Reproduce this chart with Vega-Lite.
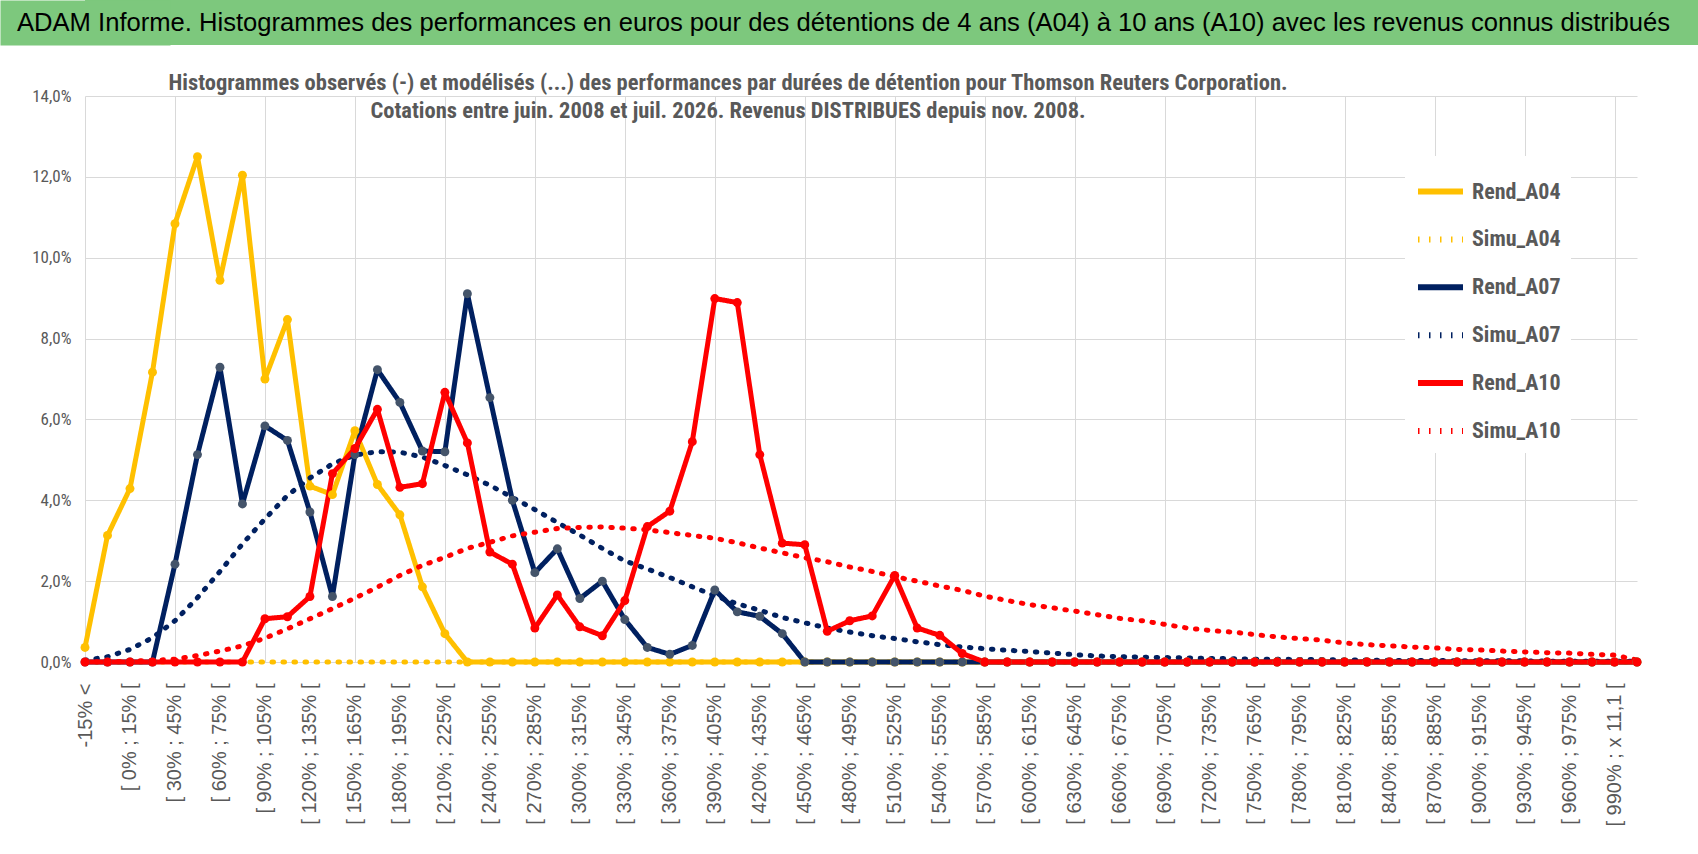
{
  "$schema": "https://vega.github.io/schema/vega-lite/v6.json",
  "padding": 0,
  "background": "white",
  "config": {"view": {"stroke": null}, "font": "Liberation Sans Narrow, Roboto Condensed, Arial Narrow, sans-serif"},
  "columns": 1,
  "spacing": 26,
  "resolve": {
    "scale": {"color": "independent", "strokeDash": "independent", "fill": "independent"},
    "legend": {"color": "independent", "strokeDash": "independent", "fill": "independent"}
  },
  "concat": [
    {
      "width": 1613,
      "height": 45,
      "view": {"fill": "#7DC87D", "stroke": null},
      "data": {"values": [{"t": "ADAM Informe. Histogrammes des performances en euros pour des détentions de 4 ans (A04) à 10 ans (A10) avec les revenus connus distribués"}]},
      "mark": {"type": "text", "align": "left", "baseline": "middle", "dx": -68, "fontSize": 25.6, "font": "Liberation Sans, Arial, sans-serif", "color": "black"},
      "encoding": {
        "text": {"field": "t"},
        "x": {"datum": 0, "type": "quantitative", "scale": {"domain": [0, 1]}, "axis": null},
        "y": {"datum": 0.5, "type": "quantitative", "scale": {"domain": [0, 1]},
          "axis": {"title": null, "labels": false, "ticks": false, "grid": false, "domainWidth": 170, "domainColor": "#7DC87D", "minExtent": 85}}
      }
    },
    {
      "width": 1552,
      "height": 566,
      "title": {
        "text": ["Histogrammes observés (-) et modélisés (...) des performances par durées de détention pour Thomson Reuters Corporation.", "Cotations entre juin. 2008 et juil. 2026. Revenus DISTRIBUES depuis nov. 2008."],
        "anchor": "middle",
        "frame": "group",
        "dx": -133,
        "offset": -35,
        "fontSize": 22.5,
        "fontWeight": "bold",
        "color": "#595959",
        "lineHeight": 28
      },
      "data": {"values": [
        {"c":"-15% <","s":"Rend_A04","v":0.36},{"c":"[ -15% ; 0% [","s":"Rend_A04","v":3.13},{"c":"[ 0% ; 15% [","s":"Rend_A04","v":4.29},{"c":"[ 15% ; 30% [","s":"Rend_A04","v":7.17},{"c":"[ 30% ; 45% [","s":"Rend_A04","v":10.84},{"c":"[ 45% ; 60% [","s":"Rend_A04","v":12.5},{"c":"[ 60% ; 75% [","s":"Rend_A04","v":9.44},{"c":"[ 75% ; 90% [","s":"Rend_A04","v":12.04},{"c":"[ 90% ; 105% [","s":"Rend_A04","v":7.0},{"c":"[ 105% ; 120% [","s":"Rend_A04","v":8.47},
        {"c":"[ 120% ; 135% [","s":"Rend_A04","v":4.35},{"c":"[ 135% ; 150% [","s":"Rend_A04","v":4.14},{"c":"[ 150% ; 165% [","s":"Rend_A04","v":5.72},{"c":"[ 165% ; 180% [","s":"Rend_A04","v":4.39},{"c":"[ 180% ; 195% [","s":"Rend_A04","v":3.64},{"c":"[ 195% ; 210% [","s":"Rend_A04","v":1.86},{"c":"[ 210% ; 225% [","s":"Rend_A04","v":0.7},{"c":"[ 225% ; 240% [","s":"Rend_A04","v":0},{"c":"[ 240% ; 255% [","s":"Rend_A04","v":0},{"c":"[ 255% ; 270% [","s":"Rend_A04","v":0},
        {"c":"[ 270% ; 285% [","s":"Rend_A04","v":0},{"c":"[ 285% ; 300% [","s":"Rend_A04","v":0},{"c":"[ 300% ; 315% [","s":"Rend_A04","v":0},{"c":"[ 315% ; 330% [","s":"Rend_A04","v":0},{"c":"[ 330% ; 345% [","s":"Rend_A04","v":0},{"c":"[ 345% ; 360% [","s":"Rend_A04","v":0},{"c":"[ 360% ; 375% [","s":"Rend_A04","v":0},{"c":"[ 375% ; 390% [","s":"Rend_A04","v":0},{"c":"[ 390% ; 405% [","s":"Rend_A04","v":0},{"c":"[ 405% ; 420% [","s":"Rend_A04","v":0},
        {"c":"[ 420% ; 435% [","s":"Rend_A04","v":0},{"c":"[ 435% ; 450% [","s":"Rend_A04","v":0},{"c":"[ 450% ; 465% [","s":"Rend_A04","v":0},{"c":"[ 465% ; 480% [","s":"Rend_A04","v":0},{"c":"[ 480% ; 495% [","s":"Rend_A04","v":0},{"c":"[ 495% ; 510% [","s":"Rend_A04","v":0},{"c":"[ 510% ; 525% [","s":"Rend_A04","v":0},{"c":"[ 525% ; 540% [","s":"Rend_A04","v":0},{"c":"[ 540% ; 555% [","s":"Rend_A04","v":0},{"c":"[ 555% ; 570% [","s":"Rend_A04","v":0},
        {"c":"[ 570% ; 585% [","s":"Rend_A04","v":0},{"c":"[ 585% ; 600% [","s":"Rend_A04","v":0},{"c":"[ 600% ; 615% [","s":"Rend_A04","v":0},{"c":"[ 615% ; 630% [","s":"Rend_A04","v":0},{"c":"[ 630% ; 645% [","s":"Rend_A04","v":0},{"c":"[ 645% ; 660% [","s":"Rend_A04","v":0},{"c":"[ 660% ; 675% [","s":"Rend_A04","v":0},{"c":"[ 675% ; 690% [","s":"Rend_A04","v":0},{"c":"[ 690% ; 705% [","s":"Rend_A04","v":0},{"c":"[ 705% ; 720% [","s":"Rend_A04","v":0},
        {"c":"[ 720% ; 735% [","s":"Rend_A04","v":0},{"c":"[ 735% ; 750% [","s":"Rend_A04","v":0},{"c":"[ 750% ; 765% [","s":"Rend_A04","v":0},{"c":"[ 765% ; 780% [","s":"Rend_A04","v":0},{"c":"[ 780% ; 795% [","s":"Rend_A04","v":0},{"c":"[ 795% ; 810% [","s":"Rend_A04","v":0},{"c":"[ 810% ; 825% [","s":"Rend_A04","v":0},{"c":"[ 825% ; 840% [","s":"Rend_A04","v":0},{"c":"[ 840% ; 855% [","s":"Rend_A04","v":0},{"c":"[ 855% ; 870% [","s":"Rend_A04","v":0},
        {"c":"[ 870% ; 885% [","s":"Rend_A04","v":0},{"c":"[ 885% ; 900% [","s":"Rend_A04","v":0},{"c":"[ 900% ; 915% [","s":"Rend_A04","v":0},{"c":"[ 915% ; 930% [","s":"Rend_A04","v":0},{"c":"[ 930% ; 945% [","s":"Rend_A04","v":0},{"c":"[ 945% ; 960% [","s":"Rend_A04","v":0},{"c":"[ 960% ; 975% [","s":"Rend_A04","v":0},{"c":"[ 975% ; 990% [","s":"Rend_A04","v":0},{"c":"[ 990% ; x 11,1 [","s":"Rend_A04","v":0},{"c":"x 11,1 <","s":"Rend_A04","v":0},

        {"c":"-15% <","s":"Simu_A04","v":0},{"c":"[ -15% ; 0% [","s":"Simu_A04","v":0},{"c":"[ 0% ; 15% [","s":"Simu_A04","v":0},{"c":"[ 15% ; 30% [","s":"Simu_A04","v":0},{"c":"[ 30% ; 45% [","s":"Simu_A04","v":0},{"c":"[ 45% ; 60% [","s":"Simu_A04","v":0},{"c":"[ 60% ; 75% [","s":"Simu_A04","v":0},{"c":"[ 75% ; 90% [","s":"Simu_A04","v":0},{"c":"[ 90% ; 105% [","s":"Simu_A04","v":0},{"c":"[ 105% ; 120% [","s":"Simu_A04","v":0},
        {"c":"[ 120% ; 135% [","s":"Simu_A04","v":0},{"c":"[ 135% ; 150% [","s":"Simu_A04","v":0},{"c":"[ 150% ; 165% [","s":"Simu_A04","v":0},{"c":"[ 165% ; 180% [","s":"Simu_A04","v":0},{"c":"[ 180% ; 195% [","s":"Simu_A04","v":0},{"c":"[ 195% ; 210% [","s":"Simu_A04","v":0},{"c":"[ 210% ; 225% [","s":"Simu_A04","v":0},{"c":"[ 225% ; 240% [","s":"Simu_A04","v":0},{"c":"[ 240% ; 255% [","s":"Simu_A04","v":0},{"c":"[ 255% ; 270% [","s":"Simu_A04","v":0},
        {"c":"[ 270% ; 285% [","s":"Simu_A04","v":0},{"c":"[ 285% ; 300% [","s":"Simu_A04","v":0},{"c":"[ 300% ; 315% [","s":"Simu_A04","v":0},{"c":"[ 315% ; 330% [","s":"Simu_A04","v":0},{"c":"[ 330% ; 345% [","s":"Simu_A04","v":0},{"c":"[ 345% ; 360% [","s":"Simu_A04","v":0},{"c":"[ 360% ; 375% [","s":"Simu_A04","v":0},{"c":"[ 375% ; 390% [","s":"Simu_A04","v":0},{"c":"[ 390% ; 405% [","s":"Simu_A04","v":0},{"c":"[ 405% ; 420% [","s":"Simu_A04","v":0},
        {"c":"[ 420% ; 435% [","s":"Simu_A04","v":0},{"c":"[ 435% ; 450% [","s":"Simu_A04","v":0},{"c":"[ 450% ; 465% [","s":"Simu_A04","v":0},{"c":"[ 465% ; 480% [","s":"Simu_A04","v":0},{"c":"[ 480% ; 495% [","s":"Simu_A04","v":0},{"c":"[ 495% ; 510% [","s":"Simu_A04","v":0},{"c":"[ 510% ; 525% [","s":"Simu_A04","v":0},{"c":"[ 525% ; 540% [","s":"Simu_A04","v":0},{"c":"[ 540% ; 555% [","s":"Simu_A04","v":0},{"c":"[ 555% ; 570% [","s":"Simu_A04","v":0},
        {"c":"[ 570% ; 585% [","s":"Simu_A04","v":0},{"c":"[ 585% ; 600% [","s":"Simu_A04","v":0},{"c":"[ 600% ; 615% [","s":"Simu_A04","v":0},{"c":"[ 615% ; 630% [","s":"Simu_A04","v":0},{"c":"[ 630% ; 645% [","s":"Simu_A04","v":0},{"c":"[ 645% ; 660% [","s":"Simu_A04","v":0},{"c":"[ 660% ; 675% [","s":"Simu_A04","v":0},{"c":"[ 675% ; 690% [","s":"Simu_A04","v":0},{"c":"[ 690% ; 705% [","s":"Simu_A04","v":0},{"c":"[ 705% ; 720% [","s":"Simu_A04","v":0},
        {"c":"[ 720% ; 735% [","s":"Simu_A04","v":0},{"c":"[ 735% ; 750% [","s":"Simu_A04","v":0},{"c":"[ 750% ; 765% [","s":"Simu_A04","v":0},{"c":"[ 765% ; 780% [","s":"Simu_A04","v":0},{"c":"[ 780% ; 795% [","s":"Simu_A04","v":0},{"c":"[ 795% ; 810% [","s":"Simu_A04","v":0},{"c":"[ 810% ; 825% [","s":"Simu_A04","v":0},{"c":"[ 825% ; 840% [","s":"Simu_A04","v":0},{"c":"[ 840% ; 855% [","s":"Simu_A04","v":0},{"c":"[ 855% ; 870% [","s":"Simu_A04","v":0},
        {"c":"[ 870% ; 885% [","s":"Simu_A04","v":0},{"c":"[ 885% ; 900% [","s":"Simu_A04","v":0},{"c":"[ 900% ; 915% [","s":"Simu_A04","v":0},{"c":"[ 915% ; 930% [","s":"Simu_A04","v":0},{"c":"[ 930% ; 945% [","s":"Simu_A04","v":0},{"c":"[ 945% ; 960% [","s":"Simu_A04","v":0},{"c":"[ 960% ; 975% [","s":"Simu_A04","v":0},{"c":"[ 975% ; 990% [","s":"Simu_A04","v":0},{"c":"[ 990% ; x 11,1 [","s":"Simu_A04","v":0},{"c":"x 11,1 <","s":"Simu_A04","v":0},

        {"c":"-15% <","s":"Rend_A07","v":0},{"c":"[ -15% ; 0% [","s":"Rend_A07","v":0},{"c":"[ 0% ; 15% [","s":"Rend_A07","v":0},{"c":"[ 15% ; 30% [","s":"Rend_A07","v":0},{"c":"[ 30% ; 45% [","s":"Rend_A07","v":2.42},{"c":"[ 45% ; 60% [","s":"Rend_A07","v":5.13},{"c":"[ 60% ; 75% [","s":"Rend_A07","v":7.29},{"c":"[ 75% ; 90% [","s":"Rend_A07","v":3.91},{"c":"[ 90% ; 105% [","s":"Rend_A07","v":5.84},{"c":"[ 105% ; 120% [","s":"Rend_A07","v":5.48},
        {"c":"[ 120% ; 135% [","s":"Rend_A07","v":3.71},{"c":"[ 135% ; 150% [","s":"Rend_A07","v":1.62},{"c":"[ 150% ; 165% [","s":"Rend_A07","v":5.13},{"c":"[ 165% ; 180% [","s":"Rend_A07","v":7.23},{"c":"[ 180% ; 195% [","s":"Rend_A07","v":6.42},{"c":"[ 195% ; 210% [","s":"Rend_A07","v":5.22},{"c":"[ 210% ; 225% [","s":"Rend_A07","v":5.2},{"c":"[ 225% ; 240% [","s":"Rend_A07","v":9.11},{"c":"[ 240% ; 255% [","s":"Rend_A07","v":6.54},{"c":"[ 255% ; 270% [","s":"Rend_A07","v":4.0},
        {"c":"[ 270% ; 285% [","s":"Rend_A07","v":2.21},{"c":"[ 285% ; 300% [","s":"Rend_A07","v":2.8},{"c":"[ 300% ; 315% [","s":"Rend_A07","v":1.57},{"c":"[ 315% ; 330% [","s":"Rend_A07","v":2.0},{"c":"[ 330% ; 345% [","s":"Rend_A07","v":1.05},{"c":"[ 345% ; 360% [","s":"Rend_A07","v":0.36},{"c":"[ 360% ; 375% [","s":"Rend_A07","v":0.19},{"c":"[ 375% ; 390% [","s":"Rend_A07","v":0.41},{"c":"[ 390% ; 405% [","s":"Rend_A07","v":1.78},{"c":"[ 405% ; 420% [","s":"Rend_A07","v":1.24},
        {"c":"[ 420% ; 435% [","s":"Rend_A07","v":1.13},{"c":"[ 435% ; 450% [","s":"Rend_A07","v":0.7},{"c":"[ 450% ; 465% [","s":"Rend_A07","v":0},{"c":"[ 465% ; 480% [","s":"Rend_A07","v":0},{"c":"[ 480% ; 495% [","s":"Rend_A07","v":0},{"c":"[ 495% ; 510% [","s":"Rend_A07","v":0},{"c":"[ 510% ; 525% [","s":"Rend_A07","v":0},{"c":"[ 525% ; 540% [","s":"Rend_A07","v":0},{"c":"[ 540% ; 555% [","s":"Rend_A07","v":0},{"c":"[ 555% ; 570% [","s":"Rend_A07","v":0},
        {"c":"[ 570% ; 585% [","s":"Rend_A07","v":0},{"c":"[ 585% ; 600% [","s":"Rend_A07","v":0},{"c":"[ 600% ; 615% [","s":"Rend_A07","v":0},{"c":"[ 615% ; 630% [","s":"Rend_A07","v":0},{"c":"[ 630% ; 645% [","s":"Rend_A07","v":0},{"c":"[ 645% ; 660% [","s":"Rend_A07","v":0},{"c":"[ 660% ; 675% [","s":"Rend_A07","v":0},{"c":"[ 675% ; 690% [","s":"Rend_A07","v":0},{"c":"[ 690% ; 705% [","s":"Rend_A07","v":0},{"c":"[ 705% ; 720% [","s":"Rend_A07","v":0},
        {"c":"[ 720% ; 735% [","s":"Rend_A07","v":0},{"c":"[ 735% ; 750% [","s":"Rend_A07","v":0},{"c":"[ 750% ; 765% [","s":"Rend_A07","v":0},{"c":"[ 765% ; 780% [","s":"Rend_A07","v":0},{"c":"[ 780% ; 795% [","s":"Rend_A07","v":0},{"c":"[ 795% ; 810% [","s":"Rend_A07","v":0},{"c":"[ 810% ; 825% [","s":"Rend_A07","v":0},{"c":"[ 825% ; 840% [","s":"Rend_A07","v":0},{"c":"[ 840% ; 855% [","s":"Rend_A07","v":0},{"c":"[ 855% ; 870% [","s":"Rend_A07","v":0},
        {"c":"[ 870% ; 885% [","s":"Rend_A07","v":0},{"c":"[ 885% ; 900% [","s":"Rend_A07","v":0},{"c":"[ 900% ; 915% [","s":"Rend_A07","v":0},{"c":"[ 915% ; 930% [","s":"Rend_A07","v":0},{"c":"[ 930% ; 945% [","s":"Rend_A07","v":0},{"c":"[ 945% ; 960% [","s":"Rend_A07","v":0},{"c":"[ 960% ; 975% [","s":"Rend_A07","v":0},{"c":"[ 975% ; 990% [","s":"Rend_A07","v":0},{"c":"[ 990% ; x 11,1 [","s":"Rend_A07","v":0},{"c":"x 11,1 <","s":"Rend_A07","v":0},

        {"c":"-15% <","s":"Simu_A07","v":0.04},{"c":"[ -15% ; 0% [","s":"Simu_A07","v":0.13},{"c":"[ 0% ; 15% [","s":"Simu_A07","v":0.31},{"c":"[ 15% ; 30% [","s":"Simu_A07","v":0.6},{"c":"[ 30% ; 45% [","s":"Simu_A07","v":1.02},{"c":"[ 45% ; 60% [","s":"Simu_A07","v":1.59},{"c":"[ 60% ; 75% [","s":"Simu_A07","v":2.24},{"c":"[ 75% ; 90% [","s":"Simu_A07","v":2.92},{"c":"[ 90% ; 105% [","s":"Simu_A07","v":3.54},{"c":"[ 105% ; 120% [","s":"Simu_A07","v":4.12},
        {"c":"[ 120% ; 135% [","s":"Simu_A07","v":4.55},{"c":"[ 135% ; 150% [","s":"Simu_A07","v":4.9},{"c":"[ 150% ; 165% [","s":"Simu_A07","v":5.12},{"c":"[ 165% ; 180% [","s":"Simu_A07","v":5.2},{"c":"[ 180% ; 195% [","s":"Simu_A07","v":5.19},{"c":"[ 195% ; 210% [","s":"Simu_A07","v":5.07},{"c":"[ 210% ; 225% [","s":"Simu_A07","v":4.86},{"c":"[ 225% ; 240% [","s":"Simu_A07","v":4.63},{"c":"[ 240% ; 255% [","s":"Simu_A07","v":4.37},{"c":"[ 255% ; 270% [","s":"Simu_A07","v":4.07},
        {"c":"[ 270% ; 285% [","s":"Simu_A07","v":3.77},{"c":"[ 285% ; 300% [","s":"Simu_A07","v":3.45},{"c":"[ 300% ; 315% [","s":"Simu_A07","v":3.14},{"c":"[ 315% ; 330% [","s":"Simu_A07","v":2.81},{"c":"[ 330% ; 345% [","s":"Simu_A07","v":2.5},{"c":"[ 345% ; 360% [","s":"Simu_A07","v":2.3},{"c":"[ 360% ; 375% [","s":"Simu_A07","v":2.09},{"c":"[ 375% ; 390% [","s":"Simu_A07","v":1.86},{"c":"[ 390% ; 405% [","s":"Simu_A07","v":1.64},{"c":"[ 405% ; 420% [","s":"Simu_A07","v":1.44},
        {"c":"[ 420% ; 435% [","s":"Simu_A07","v":1.28},{"c":"[ 435% ; 450% [","s":"Simu_A07","v":1.1},{"c":"[ 450% ; 465% [","s":"Simu_A07","v":0.97},{"c":"[ 465% ; 480% [","s":"Simu_A07","v":0.84},{"c":"[ 480% ; 495% [","s":"Simu_A07","v":0.74},{"c":"[ 495% ; 510% [","s":"Simu_A07","v":0.65},{"c":"[ 510% ; 525% [","s":"Simu_A07","v":0.58},{"c":"[ 525% ; 540% [","s":"Simu_A07","v":0.5},{"c":"[ 540% ; 555% [","s":"Simu_A07","v":0.43},{"c":"[ 555% ; 570% [","s":"Simu_A07","v":0.37},
        {"c":"[ 570% ; 585% [","s":"Simu_A07","v":0.33},{"c":"[ 585% ; 600% [","s":"Simu_A07","v":0.29},{"c":"[ 600% ; 615% [","s":"Simu_A07","v":0.26},{"c":"[ 615% ; 630% [","s":"Simu_A07","v":0.22},{"c":"[ 630% ; 645% [","s":"Simu_A07","v":0.18},{"c":"[ 645% ; 660% [","s":"Simu_A07","v":0.15},{"c":"[ 660% ; 675% [","s":"Simu_A07","v":0.13},{"c":"[ 675% ; 690% [","s":"Simu_A07","v":0.12},{"c":"[ 690% ; 705% [","s":"Simu_A07","v":0.11},{"c":"[ 705% ; 720% [","s":"Simu_A07","v":0.1},
        {"c":"[ 720% ; 735% [","s":"Simu_A07","v":0.09},{"c":"[ 735% ; 750% [","s":"Simu_A07","v":0.08},{"c":"[ 750% ; 765% [","s":"Simu_A07","v":0.07},{"c":"[ 765% ; 780% [","s":"Simu_A07","v":0.07},{"c":"[ 780% ; 795% [","s":"Simu_A07","v":0.06},{"c":"[ 795% ; 810% [","s":"Simu_A07","v":0.06},{"c":"[ 810% ; 825% [","s":"Simu_A07","v":0.05},{"c":"[ 825% ; 840% [","s":"Simu_A07","v":0.05},{"c":"[ 840% ; 855% [","s":"Simu_A07","v":0.04},{"c":"[ 855% ; 870% [","s":"Simu_A07","v":0.04},
        {"c":"[ 870% ; 885% [","s":"Simu_A07","v":0.04},{"c":"[ 885% ; 900% [","s":"Simu_A07","v":0.03},{"c":"[ 900% ; 915% [","s":"Simu_A07","v":0.03},{"c":"[ 915% ; 930% [","s":"Simu_A07","v":0.03},{"c":"[ 930% ; 945% [","s":"Simu_A07","v":0.03},{"c":"[ 945% ; 960% [","s":"Simu_A07","v":0.02},{"c":"[ 960% ; 975% [","s":"Simu_A07","v":0.02},{"c":"[ 975% ; 990% [","s":"Simu_A07","v":0.02},{"c":"[ 990% ; x 11,1 [","s":"Simu_A07","v":0.02},{"c":"x 11,1 <","s":"Simu_A07","v":0.02},

        {"c":"-15% <","s":"Rend_A10","v":0},{"c":"[ -15% ; 0% [","s":"Rend_A10","v":0},{"c":"[ 0% ; 15% [","s":"Rend_A10","v":0},{"c":"[ 15% ; 30% [","s":"Rend_A10","v":0},{"c":"[ 30% ; 45% [","s":"Rend_A10","v":0},{"c":"[ 45% ; 60% [","s":"Rend_A10","v":0},{"c":"[ 60% ; 75% [","s":"Rend_A10","v":0},{"c":"[ 75% ; 90% [","s":"Rend_A10","v":0},{"c":"[ 90% ; 105% [","s":"Rend_A10","v":1.07},{"c":"[ 105% ; 120% [","s":"Rend_A10","v":1.12},
        {"c":"[ 120% ; 135% [","s":"Rend_A10","v":1.62},{"c":"[ 135% ; 150% [","s":"Rend_A10","v":4.66},{"c":"[ 150% ; 165% [","s":"Rend_A10","v":5.28},{"c":"[ 165% ; 180% [","s":"Rend_A10","v":6.25},{"c":"[ 180% ; 195% [","s":"Rend_A10","v":4.32},{"c":"[ 195% ; 210% [","s":"Rend_A10","v":4.41},{"c":"[ 210% ; 225% [","s":"Rend_A10","v":6.67},{"c":"[ 225% ; 240% [","s":"Rend_A10","v":5.42},{"c":"[ 240% ; 255% [","s":"Rend_A10","v":2.72},{"c":"[ 255% ; 270% [","s":"Rend_A10","v":2.42},
        {"c":"[ 270% ; 285% [","s":"Rend_A10","v":0.84},{"c":"[ 285% ; 300% [","s":"Rend_A10","v":1.66},{"c":"[ 300% ; 315% [","s":"Rend_A10","v":0.87},{"c":"[ 315% ; 330% [","s":"Rend_A10","v":0.65},{"c":"[ 330% ; 345% [","s":"Rend_A10","v":1.52},{"c":"[ 345% ; 360% [","s":"Rend_A10","v":3.35},{"c":"[ 360% ; 375% [","s":"Rend_A10","v":3.73},{"c":"[ 375% ; 390% [","s":"Rend_A10","v":5.45},{"c":"[ 390% ; 405% [","s":"Rend_A10","v":8.99},{"c":"[ 405% ; 420% [","s":"Rend_A10","v":8.89},
        {"c":"[ 420% ; 435% [","s":"Rend_A10","v":5.13},{"c":"[ 435% ; 450% [","s":"Rend_A10","v":2.94},{"c":"[ 450% ; 465% [","s":"Rend_A10","v":2.9},{"c":"[ 465% ; 480% [","s":"Rend_A10","v":0.76},{"c":"[ 480% ; 495% [","s":"Rend_A10","v":1.02},{"c":"[ 495% ; 510% [","s":"Rend_A10","v":1.14},{"c":"[ 510% ; 525% [","s":"Rend_A10","v":2.14},{"c":"[ 525% ; 540% [","s":"Rend_A10","v":0.84},{"c":"[ 540% ; 555% [","s":"Rend_A10","v":0.66},{"c":"[ 555% ; 570% [","s":"Rend_A10","v":0.21},
        {"c":"[ 570% ; 585% [","s":"Rend_A10","v":0},{"c":"[ 585% ; 600% [","s":"Rend_A10","v":0},{"c":"[ 600% ; 615% [","s":"Rend_A10","v":0},{"c":"[ 615% ; 630% [","s":"Rend_A10","v":0},{"c":"[ 630% ; 645% [","s":"Rend_A10","v":0},{"c":"[ 645% ; 660% [","s":"Rend_A10","v":0},{"c":"[ 660% ; 675% [","s":"Rend_A10","v":0},{"c":"[ 675% ; 690% [","s":"Rend_A10","v":0},{"c":"[ 690% ; 705% [","s":"Rend_A10","v":0},{"c":"[ 705% ; 720% [","s":"Rend_A10","v":0},
        {"c":"[ 720% ; 735% [","s":"Rend_A10","v":0},{"c":"[ 735% ; 750% [","s":"Rend_A10","v":0},{"c":"[ 750% ; 765% [","s":"Rend_A10","v":0},{"c":"[ 765% ; 780% [","s":"Rend_A10","v":0},{"c":"[ 780% ; 795% [","s":"Rend_A10","v":0},{"c":"[ 795% ; 810% [","s":"Rend_A10","v":0},{"c":"[ 810% ; 825% [","s":"Rend_A10","v":0},{"c":"[ 825% ; 840% [","s":"Rend_A10","v":0},{"c":"[ 840% ; 855% [","s":"Rend_A10","v":0},{"c":"[ 855% ; 870% [","s":"Rend_A10","v":0},
        {"c":"[ 870% ; 885% [","s":"Rend_A10","v":0},{"c":"[ 885% ; 900% [","s":"Rend_A10","v":0},{"c":"[ 900% ; 915% [","s":"Rend_A10","v":0},{"c":"[ 915% ; 930% [","s":"Rend_A10","v":0},{"c":"[ 930% ; 945% [","s":"Rend_A10","v":0},{"c":"[ 945% ; 960% [","s":"Rend_A10","v":0},{"c":"[ 960% ; 975% [","s":"Rend_A10","v":0},{"c":"[ 975% ; 990% [","s":"Rend_A10","v":0},{"c":"[ 990% ; x 11,1 [","s":"Rend_A10","v":0},{"c":"x 11,1 <","s":"Rend_A10","v":0},

        {"c":"-15% <","s":"Simu_A10","v":0},{"c":"[ -15% ; 0% [","s":"Simu_A10","v":0.01},{"c":"[ 0% ; 15% [","s":"Simu_A10","v":0.02},{"c":"[ 15% ; 30% [","s":"Simu_A10","v":0.04},{"c":"[ 30% ; 45% [","s":"Simu_A10","v":0.07},{"c":"[ 45% ; 60% [","s":"Simu_A10","v":0.16},{"c":"[ 60% ; 75% [","s":"Simu_A10","v":0.27},{"c":"[ 75% ; 90% [","s":"Simu_A10","v":0.4},{"c":"[ 90% ; 105% [","s":"Simu_A10","v":0.59},{"c":"[ 105% ; 120% [","s":"Simu_A10","v":0.82},
        {"c":"[ 120% ; 135% [","s":"Simu_A10","v":1.07},{"c":"[ 135% ; 150% [","s":"Simu_A10","v":1.32},{"c":"[ 150% ; 165% [","s":"Simu_A10","v":1.58},{"c":"[ 165% ; 180% [","s":"Simu_A10","v":1.85},{"c":"[ 180% ; 195% [","s":"Simu_A10","v":2.14},{"c":"[ 195% ; 210% [","s":"Simu_A10","v":2.39},{"c":"[ 210% ; 225% [","s":"Simu_A10","v":2.59},{"c":"[ 225% ; 240% [","s":"Simu_A10","v":2.81},{"c":"[ 240% ; 255% [","s":"Simu_A10","v":2.96},{"c":"[ 255% ; 270% [","s":"Simu_A10","v":3.12},
        {"c":"[ 270% ; 285% [","s":"Simu_A10","v":3.21},{"c":"[ 285% ; 300% [","s":"Simu_A10","v":3.3},{"c":"[ 300% ; 315% [","s":"Simu_A10","v":3.33},{"c":"[ 315% ; 330% [","s":"Simu_A10","v":3.34},{"c":"[ 330% ; 345% [","s":"Simu_A10","v":3.31},{"c":"[ 345% ; 360% [","s":"Simu_A10","v":3.27},{"c":"[ 360% ; 375% [","s":"Simu_A10","v":3.2},{"c":"[ 375% ; 390% [","s":"Simu_A10","v":3.13},{"c":"[ 390% ; 405% [","s":"Simu_A10","v":3.06},{"c":"[ 405% ; 420% [","s":"Simu_A10","v":2.95},
        {"c":"[ 420% ; 435% [","s":"Simu_A10","v":2.82},{"c":"[ 435% ; 450% [","s":"Simu_A10","v":2.7},{"c":"[ 450% ; 465% [","s":"Simu_A10","v":2.58},{"c":"[ 465% ; 480% [","s":"Simu_A10","v":2.48},{"c":"[ 480% ; 495% [","s":"Simu_A10","v":2.35},{"c":"[ 495% ; 510% [","s":"Simu_A10","v":2.24},{"c":"[ 510% ; 525% [","s":"Simu_A10","v":2.11},{"c":"[ 525% ; 540% [","s":"Simu_A10","v":2.0},{"c":"[ 540% ; 555% [","s":"Simu_A10","v":1.88},{"c":"[ 555% ; 570% [","s":"Simu_A10","v":1.77},
        {"c":"[ 570% ; 585% [","s":"Simu_A10","v":1.63},{"c":"[ 585% ; 600% [","s":"Simu_A10","v":1.52},{"c":"[ 600% ; 615% [","s":"Simu_A10","v":1.42},{"c":"[ 615% ; 630% [","s":"Simu_A10","v":1.34},{"c":"[ 630% ; 645% [","s":"Simu_A10","v":1.26},{"c":"[ 645% ; 660% [","s":"Simu_A10","v":1.17},{"c":"[ 660% ; 675% [","s":"Simu_A10","v":1.08},{"c":"[ 675% ; 690% [","s":"Simu_A10","v":1.02},{"c":"[ 690% ; 705% [","s":"Simu_A10","v":0.93},{"c":"[ 705% ; 720% [","s":"Simu_A10","v":0.84},
        {"c":"[ 720% ; 735% [","s":"Simu_A10","v":0.78},{"c":"[ 735% ; 750% [","s":"Simu_A10","v":0.74},{"c":"[ 750% ; 765% [","s":"Simu_A10","v":0.68},{"c":"[ 765% ; 780% [","s":"Simu_A10","v":0.62},{"c":"[ 780% ; 795% [","s":"Simu_A10","v":0.58},{"c":"[ 795% ; 810% [","s":"Simu_A10","v":0.54},{"c":"[ 810% ; 825% [","s":"Simu_A10","v":0.47},{"c":"[ 825% ; 840% [","s":"Simu_A10","v":0.43},{"c":"[ 840% ; 855% [","s":"Simu_A10","v":0.4},{"c":"[ 855% ; 870% [","s":"Simu_A10","v":0.37},
        {"c":"[ 870% ; 885% [","s":"Simu_A10","v":0.35},{"c":"[ 885% ; 900% [","s":"Simu_A10","v":0.31},{"c":"[ 900% ; 915% [","s":"Simu_A10","v":0.3},{"c":"[ 915% ; 930% [","s":"Simu_A10","v":0.27},{"c":"[ 930% ; 945% [","s":"Simu_A10","v":0.25},{"c":"[ 945% ; 960% [","s":"Simu_A10","v":0.23},{"c":"[ 960% ; 975% [","s":"Simu_A10","v":0.22},{"c":"[ 975% ; 990% [","s":"Simu_A10","v":0.19},{"c":"[ 990% ; x 11,1 [","s":"Simu_A10","v":0.17},{"c":"x 11,1 <","s":"Simu_A10","v":0.05}
      ]},
      "encoding": {
        "x": {
          "field": "c",
          "type": "ordinal",
          "sort": null,
          "scale": {"type": "point", "padding": 0},
          "axis": {
            "title": null,
            "values": ["-15% <","[ 0% ; 15% [","[ 30% ; 45% [","[ 60% ; 75% [","[ 90% ; 105% [","[ 120% ; 135% [","[ 150% ; 165% [","[ 180% ; 195% [","[ 210% ; 225% [","[ 240% ; 255% [","[ 270% ; 285% [","[ 300% ; 315% [","[ 330% ; 345% [","[ 360% ; 375% [","[ 390% ; 405% [","[ 420% ; 435% [","[ 450% ; 465% [","[ 480% ; 495% [","[ 510% ; 525% [","[ 540% ; 555% [","[ 570% ; 585% [","[ 600% ; 615% [","[ 630% ; 645% [","[ 660% ; 675% [","[ 690% ; 705% [","[ 720% ; 735% [","[ 750% ; 765% [","[ 780% ; 795% [","[ 810% ; 825% [","[ 840% ; 855% [","[ 870% ; 885% [","[ 900% ; 915% [","[ 930% ; 945% [","[ 960% ; 975% [","[ 990% ; x 11,1 ["],
            "labelAngle": -90,
            "labelAlign": "right",
            "labelBaseline": "middle",
            "labelPadding": 21,
            "labelFont": "Liberation Sans, Arial, sans-serif",
            "labelFontSize": 20,
            "labelColor": "#595959",
            "labelOverlap": false,
            "labelLimit": 300,
            "ticks": false,
            "domainColor": "#D9D9D9",
            "grid": true,
            "gridColor": {"condition": {"test": "indexof(['-15% <','[ 30% ; 45% [','[ 90% ; 105% [','[ 150% ; 165% [','[ 210% ; 225% [','[ 270% ; 285% [','[ 330% ; 345% [','[ 390% ; 405% [','[ 450% ; 465% [','[ 510% ; 525% [','[ 570% ; 585% [','[ 630% ; 645% [','[ 690% ; 705% [','[ 750% ; 765% [','[ 810% ; 825% [','[ 870% ; 885% [','[ 930% ; 945% [','[ 990% ; x 11,1 ['], datum.value) >= 0", "value": "#D9D9D9"}, "value": "transparent"}
          }
        },
        "y": {
          "field": "v",
          "type": "quantitative",
          "scale": {"domain": [0, 14], "nice": false},
          "axis": {
            "title": null,
            "values": [0, 2, 4, 6, 8, 10, 12, 14],
            "labelExpr": "replace(format(datum.value, '.1f'), '.', ',') + '%'",
            "labelFontSize": 17,
            "labelColor": "#595959",
            "labelPadding": 14,
            "minExtent": 85,
            "domain": false,
            "ticks": false,
            "gridColor": "#D9D9D9"
          }
        }
      },
      "layer": [
        {
          "mark": {"type": "line", "strokeWidth": 5, "strokeCap": "round", "strokeJoin": "round"},
          "encoding": {
            "color": {
              "field": "s",
              "type": "nominal",
              "sort": null,
              "scale": {"domain": ["Rend_A04", "Simu_A04", "Rend_A07", "Simu_A07", "Rend_A10", "Simu_A10"], "range": ["#FFC000", "#FFC000", "#002060", "#002060", "#FF0000", "#FF0000"]},
              "legend": {
                "title": null,
                "orient": "none",
                "legendX": 1320,
                "legendY": 60,
                "fillColor": "white",
                "padding": 10,
                "symbolType": "stroke",
                "symbolSize": 2025,
                "symbolStrokeWidth": 6,
                "rowPadding": 9.9,
                "labelOffset": 6,
                "labelFontSize": 22,
                "labelFontWeight": "bold",
                "labelColor": "#595959"
              }
            },
            "strokeDash": {
              "field": "s",
              "type": "nominal",
              "sort": null,
              "scale": {"domain": ["Rend_A04", "Simu_A04", "Rend_A07", "Simu_A07", "Rend_A10", "Simu_A10"], "range": [[1, 0], [1.5, 9.5], [1, 0], [1.5, 9.5], [1, 0], [1.5, 9.5]]}
            }
          }
        },
        {
          "transform": [{"filter": {"field": "s", "oneOf": ["Rend_A04", "Rend_A07", "Rend_A10"]}}],
          "mark": {"type": "point", "filled": true, "size": 80, "opacity": 1},
          "encoding": {
            "fill": {
              "field": "s",
              "type": "nominal",
              "scale": {"domain": ["Rend_A04", "Rend_A07", "Rend_A10"], "range": ["#FFC000", "#44546A", "#FF0000"]},
              "legend": null
            }
          }
        }
      ]
    }
  ]
}
